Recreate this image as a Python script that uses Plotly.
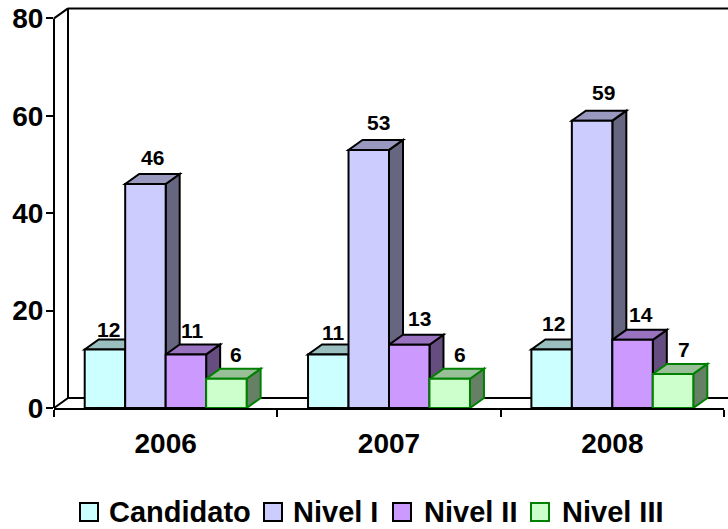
import plotly.graph_objects as go

years = ["2006", "2007", "2008"]
series_names = ["Candidato", "Nivel I", "Nivel II", "Nivel III"]
candidato = [12, 11, 12]
nivel_1 = [46, 53, 59]
nivel_2 = [11, 13, 14]
nivel_3 = [6, 6, 7]
all_values = [candidato, nivel_1, nivel_2, nivel_3]
y_ticks = [0, 20, 40, 60, 80]

FONT = "Liberation Sans"
front = ["#CCFFFF", "#CCCCFF", "#CC99FF", "#CCFFCC"]
top = ["#99BFBF", "#9999BF", "#9973BF", "#99BF99"]
side = ["#668080", "#666680", "#664D80", "#668066"]
edge = ["black", "black", "black", "#008000"]
# hand-placed label nudges in the reference (px right, px down), per series and year
label_nudge = [[(-3, 5), (-2, 3), (-5, -1)],
               [(0, -1), (3, -2), (4, -3)],
               [(0, 1), (3, -1), (1, 0)],
               [(3, 1), (3, 1), (4, 1)]]

W, H = 728, 529
L, R, T, B = 54, 4, 4, 121
plot_w = W - L - R
plot_h = H - T - B
px_per_unit = 4.87
ymax = plot_h / px_per_unit
depth_x = 14 / (plot_w / 3)
depth_y = 10 / px_per_unit
bargap = 0.275
bar_w = (1 - bargap) / 4

fig = go.Figure()
for k, (name, vals) in enumerate(zip(series_names, all_values)):
    fig.add_trace(go.Bar(name=name, x=years, y=vals, showlegend=False,
                         marker=dict(color=front[k], line=dict(color=edge[k], width=2))))

shapes = []
px = lambda p: (p - L) / plot_w
py = lambda p: (H - B - p) / plot_h
wall = dict(type="line", xref="paper", yref="y", line=dict(color="black", width=2), layer="below")
back_px = L + 14
shapes += [
    dict(wall, x0=px(L), x1=px(L), y0=0, y1=80),
    dict(wall, x0=px(back_px), x1=px(back_px), y0=depth_y, y1=80 + depth_y),
    dict(wall, x0=px(back_px), x1=px(W + 2), y0=80 + depth_y, y1=80 + depth_y),
    dict(wall, x0=px(back_px), x1=px(W + 2), y0=depth_y, y1=depth_y),
    dict(wall, x0=px(L), x1=px(back_px), y0=80, y1=80 + depth_y),
    dict(wall, x0=px(L), x1=px(back_px), y0=0, y1=depth_y),
]

annotations = []
for k, vals in enumerate(all_values):
    for i, v in enumerate(vals):
        x0 = i - 0.5 + bargap / 2 + k * bar_w
        x1 = x0 + bar_w
        ln = dict(color=edge[k], width=2)
        top_path = (f"M{x0},{v} L{x1},{v} L{x1 + depth_x},{v + depth_y} "
                    f"L{x0 + depth_x},{v + depth_y} Z")
        side_path = (f"M{x1},0 L{x1 + depth_x},{depth_y} L{x1 + depth_x},{v + depth_y} "
                     f"L{x1},{v} Z")
        shapes.append(dict(type="path", xref="x", yref="y", path=side_path,
                           fillcolor=side[k], line=ln, layer="below"))
        shapes.append(dict(type="path", xref="x", yref="y", path=top_path,
                           fillcolor=top[k], line=ln, layer="below"))
        nx, ny = label_nudge[k][i]
        annotations.append(dict(x=(x0 + x1 + depth_x) / 2, y=v + depth_y, xref="x", yref="y",
                                text=str(v), showarrow=False, yshift=15 - ny, xshift=nx,
                                yanchor="middle",
                                font=dict(family=FONT, size=21, color="black", weight="bold")))

# legend row
swatch_left = [80, 264, 393, 531]
text_left = [109, 293, 424, 562]
for k, name in enumerate(series_names):
    shapes.append(dict(type="rect", xref="paper", yref="paper",
                       x0=px(swatch_left[k]), x1=px(swatch_left[k] + 18),
                       y0=py(503), y1=py(521), fillcolor=front[k],
                       line=dict(color=edge[k], width=2), layer="above"))
    annotations.append(dict(x=px(text_left[k]), y=py(512), xref="paper", yref="paper",
                            text=name, showarrow=False, xanchor="left", yanchor="middle",
                            borderpad=0, borderwidth=0,
                            font=dict(family=FONT, size=29, color="black", weight="bold")))

fig.update_layout(
    width=W, height=H, autosize=False,
    paper_bgcolor="white", plot_bgcolor="white",
    margin=dict(l=L, r=R, t=T, b=B, pad=0),
    barmode="group", bargap=bargap, bargroupgap=0,
    shapes=shapes, annotations=annotations,
    font=dict(family=FONT, color="black"),
    showlegend=False,
    xaxis=dict(type="category", range=[-0.5, 2.5], showline=True, linecolor="black", linewidth=2,
               ticks="outside", ticklen=7, tickwidth=2, tickcolor="black", tickson="boundaries",
               ticklabelstandoff=9, showgrid=False, zeroline=False,
               tickfont=dict(family=FONT, size=28, color="black", weight="bold")),
    yaxis=dict(range=[0, ymax], tickvals=y_ticks, showline=False, ticks="outside", ticklen=7,
               tickwidth=2, tickcolor="black", showgrid=False, zeroline=False,
               ticklabelstandoff=-3,
               tickfont=dict(family=FONT, size=28, color="black", weight="bold")),
)
fig.write_html("out.html", config={"displayModeBar": False},
               post_script="document.body.style.margin='0';")
